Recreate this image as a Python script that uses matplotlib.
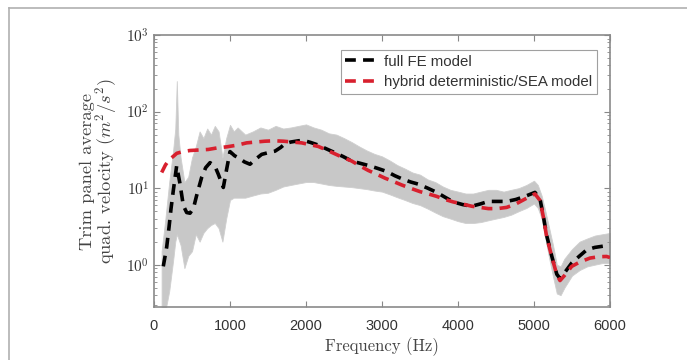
import numpy as np
import matplotlib
matplotlib.use("Agg")
import matplotlib.pyplot as plt
from matplotlib.lines import Line2D
from matplotlib.ticker import LogLocator, NullFormatter, FixedLocator

plt.rcParams['mathtext.fontset'] = 'cm'

# ---- data ----
fe_freq = [122, 167, 198, 224, 254, 298, 342, 386, 430, 474, 520, 561, 627, 680, 737, 800, 846, 912,
           956, 1000, 1060, 1123, 1190, 1263, 1340, 1417, 1500, 1592, 1667, 1724, 1800, 1900, 1965,
           2060, 2162, 2270, 2382, 2490, 2601, 2720, 2842, 2950, 3062, 3170, 3280, 3380, 3474,
           3600, 3720, 3830, 3938, 4060, 4180, 4290, 4399, 4520, 4640, 4760, 4882, 5013, 5079,
           5123, 5167, 5233, 5300, 5342, 5400, 5496, 5600, 5693, 5800, 5934, 6000]
fe_vals = [0.95, 1.7, 3.1, 5.4, 9.3, 19.5, 11.4, 5.9, 4.8, 4.7, 5.5, 8.0, 13.8, 18.5, 21.5, 19.5, 15.2, 10.2,
           17.7, 30.0, 26.5, 24.5, 22.0, 20.5, 24.0, 27.6, 29.0, 30.4, 34.0, 38.0, 40.0, 41.5, 42.0,
           39.5, 36.5, 32.5, 29.0, 25.8, 22.6, 21.0, 19.5, 18.0, 16.5, 14.5, 13.0, 12.0, 11.3,
           10.0, 8.8, 7.6, 6.6, 6.1, 5.8, 6.2, 6.7, 6.7, 6.7, 7.1, 7.8, 8.8, 7.2,
           4.3, 2.4, 1.3, 0.75, 0.66, 0.78, 1.05, 1.3, 1.56, 1.68, 1.76, 1.8]

sea_freq = [101, 150, 200, 254, 300, 380, 474, 600, 715, 830, 956, 1100, 1219, 1340, 1460, 1580,
            1702, 1820, 1943, 2050, 2162, 2270, 2382, 2490, 2601, 2710, 2820, 2930, 3039, 3150,
            3259, 3370, 3500, 3610, 3720, 3830, 3938, 4060, 4180, 4290, 4399, 4520, 4640, 4760,
            4882, 5013, 5079, 5123, 5167, 5233, 5300, 5342, 5400, 5496, 5600, 5737, 5850, 5955, 6000]
sea_vals = [16.0, 20.0, 23.5, 26.0, 28.5, 30.0, 31.0, 31.5, 32.0, 33.5, 34.6, 36.5, 39.0, 40.0, 41.0, 41.5,
            41.0, 40.0, 39.0, 37.0, 35.0, 31.5, 28.0, 25.0, 22.6, 19.5, 17.0, 15.2, 13.5, 12.2,
            11.0, 10.0, 9.0, 8.4, 7.8, 7.1, 6.6, 6.2, 5.8, 5.6, 5.4, 5.4, 5.6, 6.2,
            7.2, 8.4, 6.9, 4.2, 2.3, 1.28, 0.74, 0.62, 0.72, 0.95, 1.08, 1.22, 1.27, 1.28, 1.24]

band_freq = [100, 150, 200, 250, 280, 300, 320, 350, 400, 450, 500, 550, 600, 650, 700, 750, 800, 850,
             900, 950, 1000, 1050, 1100, 1200, 1300, 1400, 1500, 1600, 1700, 1800, 1900, 2000, 2100,
             2200, 2300, 2400, 2500, 2600, 2700, 2800, 2900, 3000, 3100, 3200, 3300, 3400, 3500,
             3600, 3700, 3800, 3900, 4000, 4100, 4200, 4300, 4400, 4500, 4600, 4700, 4800, 4900,
             5000, 5050, 5100, 5150, 5200, 5250, 5300, 5350, 5400, 5500, 5600, 5700, 5800, 5900, 6000]
band_hi = [1.5, 4.0, 12.0, 30.0, 60.0, 250.0, 50.0, 25.0, 12.0, 14.0, 25.0, 35.0, 55.0, 45.0, 60.0, 50.0, 65.0, 55.0,
           25.0, 45.0, 67.0, 55.0, 62.0, 50.0, 55.0, 62.0, 58.0, 65.0, 60.0, 62.0, 65.0, 68.0, 62.0,
           58.0, 52.0, 50.0, 45.0, 40.0, 35.0, 31.0, 28.0, 26.0, 23.0, 20.0, 18.0, 16.0, 15.0,
           13.0, 12.0, 10.5, 9.5, 9.0, 8.5, 8.5, 9.0, 9.5, 9.5, 9.0, 9.5, 10.0, 11.0,
           12.5, 11.0, 8.0, 5.0, 3.0, 1.8, 1.0, 0.95, 1.2, 1.6, 2.0, 2.2, 2.4, 2.5, 2.6]
band_lo = [0.2, 0.25, 0.45, 1.1, 2.0, 2.5, 2.2, 1.8, 0.9, 1.3, 1.5, 2.5, 2.0, 2.6, 3.0, 3.3, 3.5, 3.0,
           2.0, 4.0, 7.0, 7.5, 7.5, 7.5, 8.0, 8.5, 8.7, 9.5, 10.5, 11.0, 11.5, 12.0, 12.0,
           11.5, 11.0, 10.7, 10.5, 10.3, 10.0, 9.7, 9.3, 9.0, 8.3, 7.6, 7.0, 6.4, 6.0,
           5.4, 4.8, 4.3, 4.0, 3.7, 3.5, 3.5, 3.6, 3.8, 4.0, 4.2, 4.5, 5.0, 5.5,
           6.3, 5.5, 4.0, 2.2, 1.2, 0.7, 0.42, 0.4, 0.5, 0.72, 0.85, 0.95, 1.0, 1.05, 1.05]

xticks = [0, 1000, 2000, 3000, 4000, 5000, 6000]
yticks = [1, 10, 100, 1000]
ytick_labels = [r'$10^0$', r'$10^1$', r'$10^2$', r'$10^3$']

# ---- figure ----
fig = plt.figure(figsize=(6.87, 3.6), dpi=100)
ax = fig.add_axes([154/687, 1-307/360, (610-154)/687, (307-35)/360])

ax.fill_between(band_freq, band_lo, band_hi, color='#c8c8c8', linewidth=0.6, edgecolor='#cfcfcf', zorder=1)
ax.plot(fe_freq, fe_vals, color='black', lw=2.6, ls=(0, (3.0, 2.0)), label='full FE model', zorder=3)
ax.plot(sea_freq, sea_vals, color='#d8202e', lw=2.6, ls=(0, (3.0, 2.0)),
        label='hybrid deterministic/SEA model', zorder=4)

ax.set_yscale('log')
ax.set_xlim(0, 6000)
ax.set_ylim(0.28, 1000)
ax.set_xticks(xticks)
ax.set_xticklabels([str(t) for t in xticks], family='Liberation Sans', fontsize=10.5, color='#333333')
ax.yaxis.set_major_locator(FixedLocator(yticks))
ax.set_yticklabels(ytick_labels, fontsize=11, color='#333333')
ax.yaxis.set_minor_locator(LogLocator(base=10, subs=np.arange(2, 10)))
ax.yaxis.set_minor_formatter(NullFormatter())
ax.tick_params(which='both', direction='in', top=True, right=True, color='#888888')
ax.tick_params(which='major', length=4, width=0.8)
ax.tick_params(axis='x', which='major', pad=9)
ax.tick_params(which='minor', length=2, width=0.6)
for s in ax.spines.values():
    s.set_color('#8a8a8a')
    s.set_linewidth(1.2)

ax.set_xlabel('Frequency (Hz)', family='cmr10', fontsize=12, color='#444444', labelpad=3)
ax.set_ylabel('Trim panel average\nquad. velocity ($m^2/s^2$)', family='cmr10', fontsize=13.3,
              color='#444444', labelpad=5, linespacing=0.95)

leg = ax.legend(loc='upper right', bbox_to_anchor=(597/687, 1-50/360), bbox_transform=fig.transFigure,
                borderaxespad=0.0, frameon=True, fancybox=False, edgecolor='#888888',
                handlelength=2.15, handletextpad=0.45, borderpad=0.3, labelspacing=0.45,
                prop={'family': 'Liberation Sans', 'size': 10.8})
leg.get_frame().set_linewidth(0.8)
for t in leg.get_texts():
    t.set_color('#333333')

# outer frame lines (top and left)
fig.add_artist(Line2D([9/687, 1.0], [1-8/360, 1-8/360], color='#b0b0b0', lw=1.2))
fig.add_artist(Line2D([9/687, 9/687], [0, 1-8/360], color='#b0b0b0', lw=1.2))

fig.savefig('out.png', dpi=100)
